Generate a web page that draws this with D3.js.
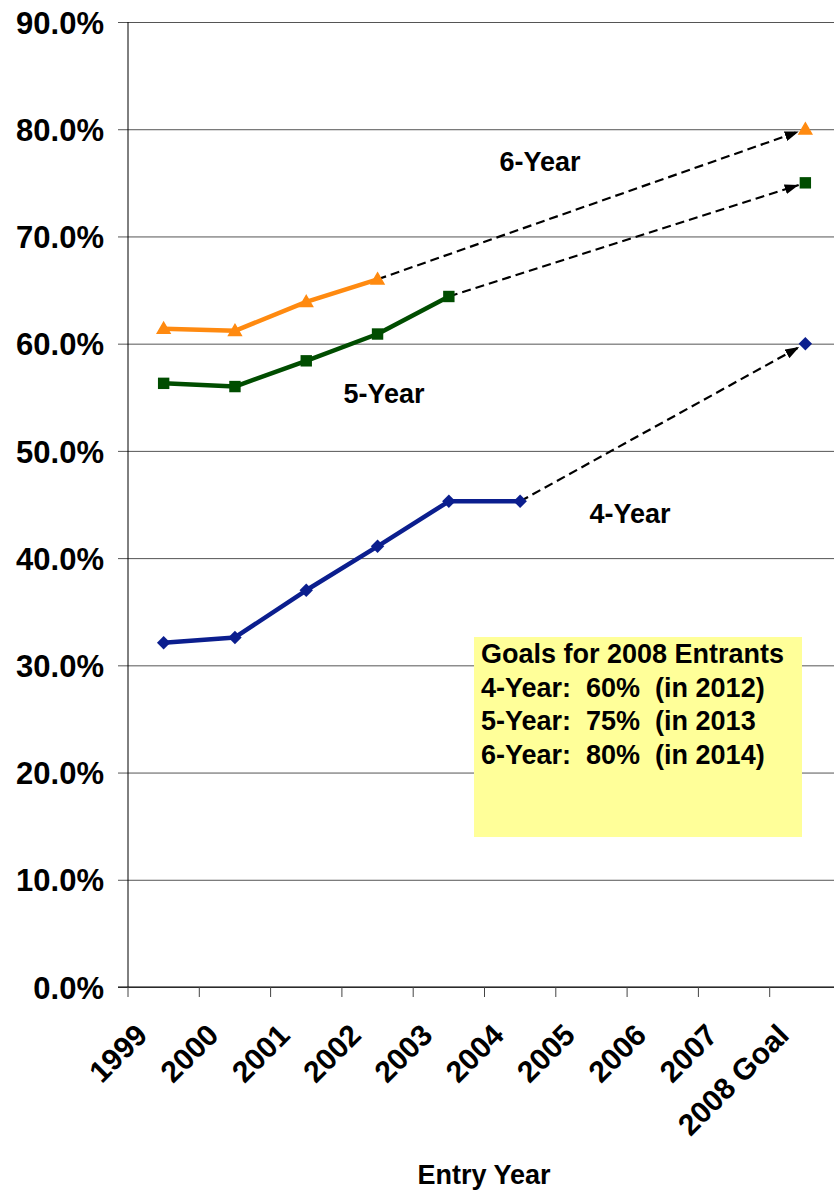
<!DOCTYPE html>
<html>
<head>
<meta charset="utf-8">
<script src="https://cdn.jsdelivr.net/npm/d3@7"></script>
<style>
  html, body { margin: 0; padding: 0; background: #fff; }
  svg { display: block; font-family: "Liberation Sans", Arial, sans-serif; }
  text { font-weight: bold; fill: #000; }
</style>
</head>
<body>
<svg id="chart" width="834" height="1191"></svg>
<script>
// ---- Data ----
const categories = ["1999", "2000", "2001", "2002", "2003", "2004", "2005", "2006", "2007", "2008 Goal"];
const sixYear  = [0.614, 0.612, 0.639, 0.660, null, null, null, null, null, 0.80];
const fiveYear = [0.563, 0.560, 0.584, 0.609, 0.644, null, null, null, null, 0.75];
const fourYear = [0.321, 0.326, 0.370, 0.411, 0.453, 0.453, null, null, null, 0.60];
const yTicks = [0, 0.1, 0.2, 0.3, 0.4, 0.5, 0.6, 0.7, 0.8, 0.9];
const seriesNames = ["6-Year", "5-Year", "4-Year"];
const goalLines = ["Goals for 2008 Entrants", "4-Year:  60%  (in 2012)", "5-Year:  75%  (in 2013", "6-Year:  80%  (in 2014)"];
const xTitle = "Entry Year";

(function () {
// ---- Layout ----
const svg = d3.select("#chart");
const mLeft = 128, mTop = 22, mBottom = 987, mRight = 841;

const x = d3.scaleBand().domain(categories).range([mLeft, mRight]).padding(0);
const y = d3.scaleLinear().domain([0, 0.9]).range([mBottom, mTop]);
const cx = c => x(c) + x.bandwidth() / 2;

// gridlines + y axis
const yAxis = d3.axisLeft(y).tickValues(yTicks).tickFormat(d3.format(".1%")).tickSize(10).tickPadding(12);
const gy = svg.append("g").attr("transform", `translate(${mLeft},0)`).call(yAxis);
gy.select(".domain").remove();
gy.selectAll(".tick line").attr("x2", 834 - mLeft).attr("x1", -10).attr("stroke", "#555").attr("stroke-width", 1);
gy.selectAll(".tick text").attr("font-size", 31).attr("font-weight", "bold").attr("fill", "#000")
  .attr("font-family", "Liberation Sans, Arial, sans-serif").attr("dy", "0.36em").attr("x", -24);

// y axis line
svg.append("line").attr("x1", mLeft).attr("x2", mLeft).attr("y1", mTop).attr("y2", mBottom)
  .attr("stroke", "#000").attr("stroke-width", 1);

// x axis
svg.append("line").attr("x1", mLeft - 10).attr("x2", 834).attr("y1", mBottom).attr("y2", mBottom)
  .attr("stroke", "#000").attr("stroke-width", 1.2);
const gx = svg.append("g");
gx.selectAll("line.xt").data(categories).join("line").attr("class", "xt")
  .attr("x1", d => x(d)).attr("x2", d => x(d)).attr("y1", mBottom).attr("y2", mBottom + 10)
  .attr("stroke", "#444").attr("stroke-width", 1);
gx.selectAll("text.xl").data(categories).join("text").attr("class", "xl")
  .attr("transform", d => `translate(${x(d) + 21},${mBottom + 50}) rotate(-45)`)
  .attr("text-anchor", "end").attr("font-size", 30).text(d => d);

svg.append("text").attr("x", 484).attr("y", 1184).attr("text-anchor", "middle")
  .attr("font-size", 27).text(xTitle);

// ---- Series ----
const series = [
  { name: seriesNames[0], vals: sixYear, color: "#FF8A10", shape: "tri", label: [540, 171] },
  { name: seriesNames[1], vals: fiveYear, color: "#004D00", shape: "sq", label: [384, 403] },
  { name: seriesNames[2], vals: fourYear, color: "#0B1E8E", shape: "dia", label: [630, 523] }
];

// arrow marker
svg.append("defs").append("marker").attr("id", "arrow")
  .attr("viewBox", "0 0 14 10").attr("refX", 14).attr("refY", 5)
  .attr("markerWidth", 14).attr("markerHeight", 10).attr("markerUnits", "userSpaceOnUse")
  .attr("orient", "auto")
  .append("path").attr("d", "M0,0 L14,5 L0,10 Z").attr("fill", "#000");

const symTri = d3.symbol().type(d3.symbolTriangle).size(70);
const symSq = d3.symbol().type(d3.symbolSquare).size(130);
const symDia = d3.symbol().type(d3.symbolSquare).size(90);

series.forEach(s => {
  const pts = categories.map((c, i) => ({ c, v: s.vals[i], i })).filter(p => p.v !== null);
  const goal = pts[pts.length - 1];
  const hist = pts.slice(0, -1);
  const last = hist[hist.length - 1];

  // dashed arrow from last actual to goal
  const x1 = cx(last.c), y1 = y(last.v), x2 = cx(goal.c), y2 = y(goal.v);
  const len = Math.hypot(x2 - x1, y2 - y1);
  const shorten = 7;
  svg.append("line")
    .attr("x1", x1).attr("y1", y1)
    .attr("x2", x2 - (x2 - x1) / len * shorten).attr("y2", y2 - (y2 - y1) / len * shorten)
    .attr("stroke", "#000").attr("stroke-width", 2.2).attr("stroke-dasharray", "9,5")
    .attr("marker-end", "url(#arrow)");

  // solid line
  svg.append("path").datum(hist)
    .attr("d", d3.line().x(p => cx(p.c)).y(p => y(p.v)))
    .attr("fill", "none").attr("stroke", s.color).attr("stroke-width", 4.5).attr("stroke-linejoin", "round");

  // markers
  svg.append("g").selectAll("path").data(pts).join("path")
    .attr("transform", p => {
      const base = `translate(${cx(p.c)},${y(p.v)})`;
      return s.shape === "dia" ? base + " rotate(45)" : (s.shape === "tri" ? base + " translate(0,1)" : base);
    })
    .attr("d", s.shape === "tri" ? symTri() : s.shape === "sq" ? symSq() : symDia())
    .attr("fill", s.color)
    .attr("stroke", s.shape === "tri" ? s.color : "none").attr("stroke-width", s.shape === "tri" ? 1.5 : 0)
    .attr("stroke-linejoin", "miter");

  svg.append("text").attr("x", s.label[0]).attr("y", s.label[1]).attr("text-anchor", "middle")
    .attr("font-size", 27).text(s.name);
});

// ---- Goals box ----
const box = svg.append("g");
box.append("rect").attr("x", 474).attr("y", 637).attr("width", 328).attr("height", 200).attr("fill", "#FFFF99");
box.selectAll("text").data(goalLines).join("text")
  .attr("x", 481).attr("y", (d, i) => 663 + i * 33.6)
  .attr("font-size", 27).style("white-space", "pre").text(d => d);
})();
</script>
</body>
</html>
